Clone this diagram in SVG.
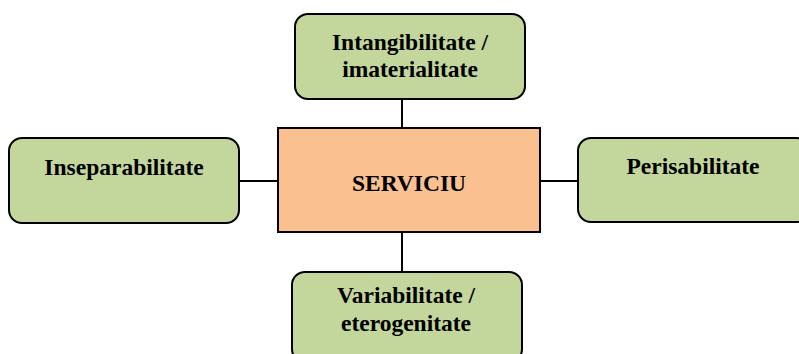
<svg xmlns="http://www.w3.org/2000/svg" width="799" height="354" viewBox="0 0 799 354">
<style>
.n{fill:#C3D69B;stroke:#000;stroke-width:2}
.c{fill:#FAC090;stroke:#000;stroke-width:2}
.t{font-family:"Liberation Serif","Times New Roman",serif;font-weight:bold;font-size:23.5px;fill:#000;text-anchor:middle}
.e{stroke:#000;stroke-width:2;fill:none}
</style>
<rect width="799" height="354" fill="#fff"/>
<g id="connectors">
<line class="e" x1="402" y1="99" x2="402" y2="128"/>
<line class="e" x1="402" y1="232" x2="402" y2="272"/>
<line class="e" x1="239" y1="181" x2="278" y2="181"/>
<line class="e" x1="540" y1="181" x2="578" y2="181"/>
</g>
<g id="serviciu">
<rect class="c" x="278" y="128" width="262" height="104"/>
<text class="t" x="409" y="191">SERVICIU</text>
</g>
<g id="intangibilitate">
<rect class="n" x="295" y="14" width="230" height="85" rx="13"/>
<text class="t" x="410" y="50">Intangibilitate /</text>
<text class="t" x="410" y="77">imaterialitate</text>
</g>
<g id="inseparabilitate">
<rect class="n" x="9" y="138" width="230" height="85" rx="13"/>
<text class="t" x="124" y="175">Inseparabilitate</text>
</g>
<g id="perisabilitate">
<rect class="n" x="578" y="138" width="231" height="84" rx="13"/>
<text class="t" x="693" y="174">Perisabilitate</text>
</g>
<g id="variabilitate">
<rect class="n" x="292" y="272" width="230" height="90" rx="13"/>
<text class="t" x="406" y="303">Variabilitate /</text>
<text class="t" x="406" y="331">eterogenitate</text>
</g>
</svg>
